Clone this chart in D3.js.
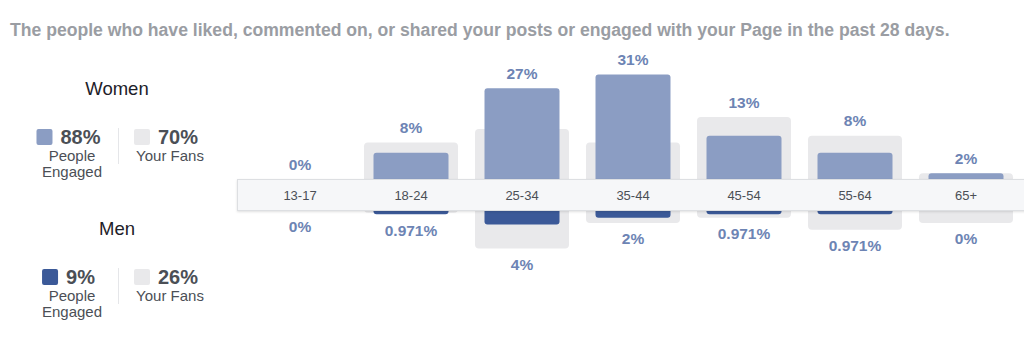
<!DOCTYPE html>
<html><head><meta charset="utf-8">
<script src="https://cdn.jsdelivr.net/npm/d3@7"></script>
<style>
html,body{margin:0;padding:0;background:#fff;}
svg{display:block;font-family:"Liberation Sans",Arial,Helvetica,sans-serif;}
</style></head>
<body>
<svg id="chart" width="1024" height="358"></svg>
<script>
const title = "The people who have liked, commented on, or shared your posts or engaged with your Page in the past 28 days.";
const ageGroups = ["13-17","18-24","25-34","35-44","45-54","55-64","65+"];
const womenEngaged = [0, 8, 27, 31, 13, 8, 2];
const womenFans = [0, 11, 15, 11, 18.5, 13, 2];
const menEngaged = [0, 0.971, 4, 2, 0.971, 0.971, 0];
const menFans = [0, 0.5, 11, 3.5, 2, 5.5, 3.5];
const womenTotals = {engaged: "88%", fans: "70%"};
const menTotals = {engaged: "9%", fans: "26%"};

const svg = d3.select("#chart");
const C = {engaged:"#8b9dc3", menEngaged:"#3b5998", fans:"#e9e9eb", label:"#6d84b4"};

const t = svg.append("text").attr("x",10).attr("y",36)
  .attr("font-size",17.6).attr("font-weight","bold").attr("fill","#9a9da3")
  .text(title);

const x = d3.scaleBand().domain(ageGroups).range([244.5, 1021.5]);
const bw = x.bandwidth();
const pxPerPct = 3.4;
const yW = d3.scaleLinear().domain([0, 31]).range([180, 180 - 31*pxPerPct]);
const yM = d3.scaleLinear().domain([0, 11]).range([211, 211 + 11*pxPerPct]);
const engW = 75, fanW = 94;
const mid = 195;

const rows = ageGroups.map((a,i)=>({a, we:womenEngaged[i], wf:womenFans[i], me:menEngaged[i], mf:menFans[i]}));
const g = svg.append("g");
const cx = d => x(d.a) + bw/2;

g.selectAll(".wf").data(rows.filter(d=>d.wf>0)).join("rect")
  .attr("x", d=>cx(d)-fanW/2).attr("width", fanW)
  .attr("y", d=>yW(d.wf)).attr("height", d=>mid - yW(d.wf))
  .attr("rx",4).attr("fill",C.fans);
g.selectAll(".mf").data(rows.filter(d=>d.mf>0)).join("rect")
  .attr("x", d=>cx(d)-fanW/2).attr("width", fanW)
  .attr("y", mid).attr("height", d=>yM(d.mf)-mid)
  .attr("rx",4).attr("fill",C.fans);
g.selectAll(".we").data(rows.filter(d=>d.we>0)).join("rect")
  .attr("x", d=>cx(d)-engW/2).attr("width", engW)
  .attr("y", d=>yW(d.we)).attr("height", d=>mid - yW(d.we))
  .attr("rx",3).attr("fill",C.engaged);
g.selectAll(".me").data(rows.filter(d=>d.me>0)).join("rect")
  .attr("x", d=>cx(d)-engW/2).attr("width", engW)
  .attr("y", mid).attr("height", d=>yM(d.me)-mid)
  .attr("rx",3).attr("fill",C.menEngaged);

const defs = svg.append("defs");
const f = defs.append("filter").attr("id","sh").attr("x","-5%").attr("y","-50%").attr("width","110%").attr("height","200%");
f.append("feDropShadow").attr("dx",0).attr("dy",1).attr("stdDeviation",1).attr("flood-color","#000").attr("flood-opacity",0.12);
svg.append("rect").attr("x",237.5).attr("y",179.5).attr("width",800).attr("height",31)
  .attr("fill","#f6f7f9").attr("stroke","#dddfe2").attr("filter","url(#sh)");
const axis = d3.axisBottom(x).tickSize(0).tickPadding(0);
const ag = svg.append("g").attr("transform","translate(0,195)").call(axis);
ag.select(".domain").remove();
ag.selectAll("text").attr("dy","0.35em").attr("font-size",13)
  .attr("font-family","Liberation Sans, Arial, sans-serif").attr("fill","#4b4f56");

svg.selectAll(".wl").data(rows).join("text")
  .attr("x", cx).attr("y", d=>Math.min(yW(d.we), yW(d.wf), 180) - 15).attr("dy","0.35em")
  .attr("text-anchor","middle").attr("font-size",15.5).attr("font-weight","bold").attr("fill",C.label)
  .text(d=>d.we+"%");
svg.selectAll(".ml").data(rows).join("text")
  .attr("x", cx).attr("y", d=>Math.max(yM(d.me), yM(d.mf), 211) + 16).attr("dy","0.35em")
  .attr("text-anchor","middle").attr("font-size",15.5).attr("font-weight","bold").attr("fill",C.label)
  .text(d=>d.me+"%");

function legend(y0, name, totals, color){
  const l = svg.append("g");
  l.append("text").attr("x",117).attr("y",y0).attr("text-anchor","middle")
    .attr("font-size",18.5).attr("fill","#1d2129").text(name);
  const sy = y0 + 34;
  const eg = l.append("g");
  eg.append("rect").attr("x",0).attr("y",sy).attr("width",16).attr("height",16).attr("rx",2).attr("fill",color);
  const et = eg.append("text").attr("x",24).attr("y",sy+15).attr("font-size",20).attr("font-weight","bold").attr("fill","#4b4f56").text(totals.engaged);
  const ew = 24 + et.node().getComputedTextLength();
  eg.attr("transform",`translate(${68.5 - ew/2},0)`);
  l.append("text").attr("x",72).attr("y",sy+32).attr("text-anchor","middle").attr("font-size",15).attr("fill","#4b4f56").text("People");
  l.append("text").attr("x",72).attr("y",sy+48).attr("text-anchor","middle").attr("font-size",15).attr("fill","#4b4f56").text("Engaged");
  l.append("line").attr("x1",118.5).attr("x2",118.5).attr("y1",sy-1).attr("y2",sy+35).attr("stroke","#e5e6e9");
  l.append("rect").attr("x",134).attr("y",sy).attr("width",16).attr("height",16).attr("rx",2).attr("fill","#e9e9eb");
  l.append("text").attr("x",158).attr("y",sy+15).attr("font-size",20).attr("font-weight","bold").attr("fill","#4b4f56").text(totals.fans);
  l.append("text").attr("x",170).attr("y",sy+32).attr("text-anchor","middle").attr("font-size",15).attr("fill","#4b4f56").text("Your Fans");
}
legend(95, "Women", womenTotals, C.engaged);
legend(235, "Men", menTotals, C.menEngaged);
</script>
</body></html>
